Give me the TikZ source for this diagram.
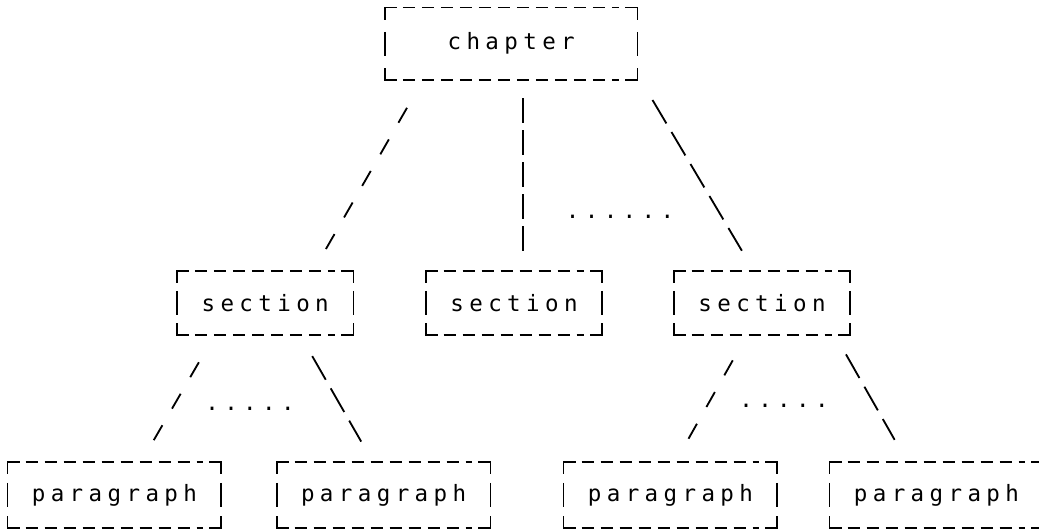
\documentclass[tikz,border=0pt]{standalone}
\usepackage{fontspec}
\setmonofont{DejaVu Sans Mono}[LetterSpace=24]
\usetikzlibrary{positioning}

\tikzset{
  tbox/.style={rectangle, inner sep=0pt, font=\ttfamily\fontsize{16}{16}\selectfont,
    append after command={\pgfextra{
      \draw[line width=1.3pt] ([yshift=-0.3cm]\tikzlastnode.north west) -- (\tikzlastnode.north west) -- ([xshift=0.3cm]\tikzlastnode.north west);
      \draw[line width=1.3pt] ([yshift=-0.3cm]\tikzlastnode.north east) -- (\tikzlastnode.north east) -- ([xshift=-0.3cm]\tikzlastnode.north east);
      \draw[line width=1.3pt] ([yshift=0.3cm]\tikzlastnode.south west) -- (\tikzlastnode.south west) -- ([xshift=0.3cm]\tikzlastnode.south west);
      \draw[line width=1.3pt] ([yshift=0.3cm]\tikzlastnode.south east) -- (\tikzlastnode.south east) -- ([xshift=-0.3cm]\tikzlastnode.south east);
      \draw[line width=1.3pt] ([yshift=0.3cm]\tikzlastnode.west) -- ([yshift=-0.3cm]\tikzlastnode.west);
      \draw[line width=1.3pt] ([yshift=0.3cm]\tikzlastnode.east) -- ([yshift=-0.3cm]\tikzlastnode.east);
      \draw[line width=1.3pt, dash pattern=on 0.3cm off 0.175cm] ([xshift=0.45cm]\tikzlastnode.north west) -- ([xshift=-0.45cm]\tikzlastnode.north east);
      \draw[line width=1.3pt, dash pattern=on 0.3cm off 0.175cm] ([xshift=0.45cm]\tikzlastnode.south west) -- ([xshift=-0.45cm]\tikzlastnode.south east);
    }}},
  chapbox/.style={tbox, minimum width=6.3cm, minimum height=1.8cm},
  secbox/.style={tbox, minimum width=4.4cm, minimum height=1.6cm},
  parbox/.style={tbox, minimum width=5.33cm, minimum height=1.65cm},
  dotrow/.style={inner sep=0pt, font=\ttfamily\fontsize{16}{16}\selectfont},
  slashline/.style={line width=1.3pt, dash pattern=on 0.43cm off 0.48cm},
  backline/.style={line width=1.3pt, dash pattern=on 0.68cm off 0.25cm},
  barline/.style={line width=1.3pt, dash pattern=on 0.62cm off 0.18cm}
}

\begin{document}
\begin{tikzpicture}
\useasboundingbox (0,0) rectangle (25.975,13.225);

% top level
\node[chapbox] (chap) at (12.78,12.13) {chapter};

% sections
\node[secbox] (sec1) at (6.63,5.65) {section};
\node[secbox] (sec2) at (12.85,5.65) {section};
\node[secbox] (sec3) at (19.05,5.65) {section};

% paragraphs
\node[parbox] (par1) at (2.86,0.85) {paragraph};
\node[parbox] (par2) at (9.59,0.85) {paragraph};
\node[parbox] (par3) at (16.76,0.85) {paragraph};
\node[parbox] (par4) at (23.41,0.85) {paragraph};

% elided siblings
\node[dotrow] (dots1) at (15.5,7.8) {......};
\node[dotrow] (dots2) at (6.25,3.0) {.....};
\node[dotrow] (dots3) at (19.6,3.08) {.....};

% chapter -> sections
\draw[slashline, shorten <=0.8cm, shorten >=0.55cm] ([xshift=0.95cm]chap.south west) -- ([xshift=-1cm]sec1.north east);
\draw[barline, shorten <=0.45cm, shorten >=0.48cm] ([xshift=0.3cm]chap.south) -- ([xshift=0.23cm]sec2.north);
\draw[backline, shorten <=0.58cm, shorten >=0.58cm] ([xshift=0.08cm]chap.south east) -- ([xshift=2cm]sec3.north west);

% sections -> paragraphs
\draw[slashline, shorten <=0.78cm, shorten >=0.58cm] ([xshift=0.94cm]sec1.south west) -- ([xshift=-2cm]par1.north east);
\draw[backline, shorten <=0.6cm, shorten >=0.58cm] ([xshift=-1.33cm]sec1.south east) -- ([xshift=2.4cm]par2.north west);
\draw[slashline, shorten <=0.72cm, shorten >=0.64cm] ([xshift=1.83cm]sec3.south west) -- ([xshift=2.8cm]par3.north west);
\draw[backline, shorten <=0.55cm, shorten >=0.63cm] ([xshift=-0.38cm]sec3.south east) -- ([xshift=1.94cm]par4.north west);

\end{tikzpicture}
\end{document}
